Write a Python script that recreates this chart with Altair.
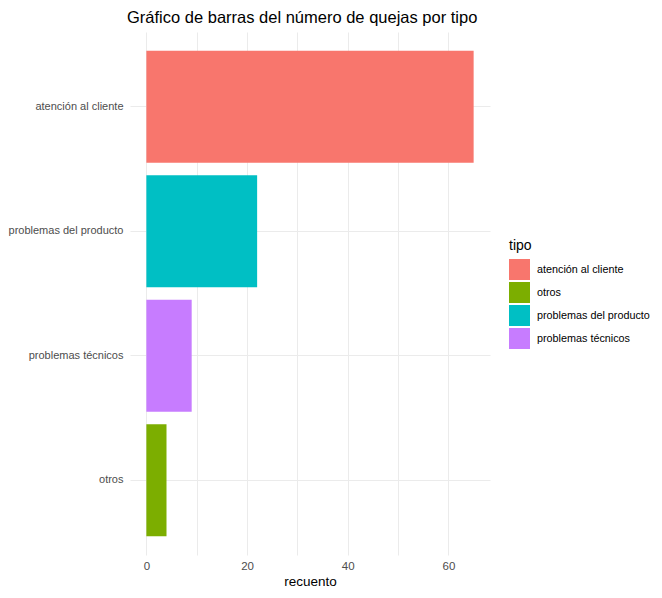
import altair as alt
import pandas as pd

categorias = ["atención al cliente", "problemas del producto", "problemas técnicos", "otros"]
recuentos = [65, 22, 9, 4]
orden_leyenda = ["atención al cliente", "otros", "problemas del producto", "problemas técnicos"]
colores = ["#F8766D", "#7CAE00", "#00BFC4", "#C77CFF"]
ticks_x = [0, 10, 20, 30, 40, 50, 60]

df = pd.DataFrame({"tipo": categorias, "recuento": recuentos})

FONT = "Liberation Sans"

chart = alt.Chart(df).mark_bar(strokeWidth=0).encode(
    y=alt.Y("tipo:N", sort=categorias, title=None,
            scale=alt.Scale(paddingInner=0.1, paddingOuter=0.15),
            axis=alt.Axis(ticks=False, domain=False, labelPadding=7, bandPosition=0.5,
                          labelFontSize=11, labelColor="#4d4d4d", labelFont=FONT,
                          gridColor="#ebebeb", grid=True, labelLimit=300)),
    x=alt.X("recuento:Q", title="recuento",
            scale=alt.Scale(domain=[-3.25, 68.25], nice=False, zero=False),
            axis=alt.Axis(values=ticks_x, labelExpr="datum.value % 20 == 0 ? datum.label : ''",
                          ticks=False, domain=False, labelPadding=5,
                          labelFontSize=11.5, labelColor="#4d4d4d", labelFont=FONT,
                          titleFontSize=13.5, titleFont=FONT, titleColor="#000000",
                          titleFontWeight="normal", titlePadding=3,
                          gridColor="#ebebeb")),
    color=alt.Color("tipo:N", title="tipo",
                    scale=alt.Scale(domain=orden_leyenda, range=colores),
                    legend=alt.Legend(orient="none", legendX=379, legendY=207,
                                      symbolType="square", symbolSize=440, symbolStrokeWidth=0,
                                      symbolOpacity=1, rowPadding=2, labelOffset=7,
                                      labelFontSize=10.8, labelFont=FONT, labelColor="#000000",
                                      titleFontSize=14, titleFont=FONT, titleColor="#000000",
                                      titleFontWeight="normal", titlePadding=6, labelLimit=300)),
).properties(
    width=360,
    height=523,
    background="white",
    title=alt.TitleParams("Gráfico de barras del número de quejas por tipo",
                          anchor="start", frame="group", dx=-3, fontSize=16.5, font=FONT,
                          fontWeight="normal", color="#000000", offset=6),
    autosize=alt.AutoSizeParams(type="none"),
    padding={"left": 122, "top": 24, "right": 164, "bottom": 35},
).configure_view(strokeWidth=0, stroke=None)

chart.save("out.html", embed_options={"renderer": "svg", "actions": False})
